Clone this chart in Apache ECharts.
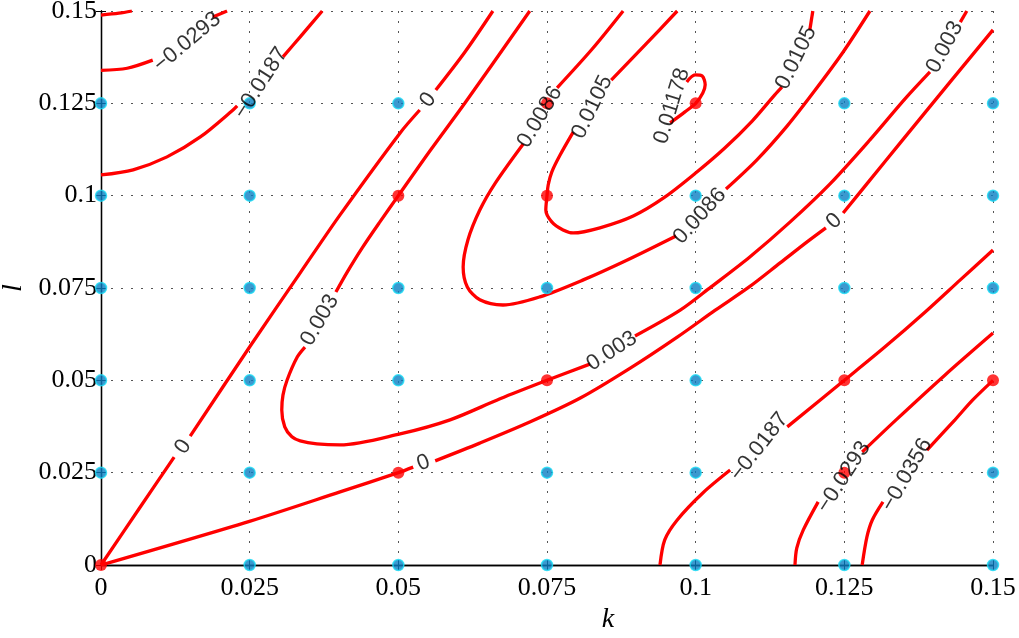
<!DOCTYPE html>
<html>
<head>
<meta charset="utf-8">
<script src="https://cdn.jsdelivr.net/npm/echarts@6/dist/echarts.min.js"></script>
<style>
  html, body { margin: 0; padding: 0; background: #fff; }
  #chart { width: 1019px; height: 638px; }
</style>
</head>
<body>
<div id="chart"></div>
<script>
// Tick labels for both axes
const kTicks = ['0', '0.025', '0.05', '0.075', '0.1', '0.125', '0.15'];
const lTicks = ['0', '0.025', '0.05', '0.075', '0.1', '0.125', '0.15'];

// Contour polylines, one list of [k, l] pieces per level (pieces are split where the labels sit)
const contourM0356 = [
  [[0, 0.1489], [0.0030, 0.1494], [0.0052, 0.15]],
  [[0.15, 0.05], [0.1466, 0.0447], [0.1436, 0.0393], [0.1389, 0.0311]],
  [[0.1315, 0.0171], [0.1297, 0.0122], [0.1288, 0.0076], [0.1280, 0]]
];
const contourM0293 = [
  [[0, 0.1339], [0.0044, 0.1345], [0.0087, 0.1367]],
  [[0.0188, 0.1484], [0.0212, 0.15]],
  [[0.15, 0.0628], [0.1419, 0.0514], [0.1337, 0.0393], [0.1280, 0.0306]],
  [[0.1206, 0.0171], [0.1181, 0.0095], [0.1170, 0.0046], [0.1167, 0]]
];
const contourM0187 = [
  [[0, 0.1056], [0.0054, 0.1070], [0.0111, 0.1105], [0.0167, 0.1159], [0.0222, 0.1232], [0.0229, 0.1243]],
  [[0.0306, 0.1376], [0.0335, 0.1430], [0.0372, 0.15]],
  [[0.15, 0.0853], [0.1445, 0.0772], [0.1386, 0.0685], [0.1318, 0.0590], [0.125, 0.05], [0.1154, 0.0374]],
  [[0.1058, 0.0257], [0.1012, 0.0195], [0.0969, 0.0122], [0.0948, 0.0068], [0.0940, 0]]
];
const contour0 = [
  [[0, 0], [0.0066, 0.0157], [0.0123, 0.0292]],
  [[0.0150, 0.0349], [0.0251, 0.0593], [0.0335, 0.0791], [0.0402, 0.0948], [0.0503, 0.1170], [0.0536, 0.1232]],
  [[0.0563, 0.1286], [0.0612, 0.1389], [0.0659, 0.15]],
  [[0, 0], [0.0251, 0.0119], [0.0402, 0.0198], [0.05, 0.025], [0.0525, 0.0265]],
  [[0.0562, 0.0282], [0.0637, 0.0330], [0.0721, 0.0387], [0.0806, 0.0452], [0.0890, 0.0533], [0.0969, 0.0617], [0.1033, 0.0690], [0.1090, 0.0753], [0.1142, 0.0818], [0.1189, 0.0877], [0.1219, 0.0913]],
  [[0.1248, 0.0953], [0.1293, 0.1042], [0.1344, 0.1143], [0.1428, 0.1308], [0.15, 0.1449]]
];
const contour003 = [
  [[0.0721, 0.15], [0.0612, 0.1251], [0.0553, 0.1121], [0.05, 0.1], [0.0469, 0.0929], [0.0439, 0.0858], [0.0414, 0.0793], [0.0395, 0.0739]],
  [[0.0343, 0.0590], [0.0330, 0.0563], [0.0313, 0.0501], [0.0306, 0.0460], [0.0304, 0.0420], [0.0309, 0.0374], [0.0321, 0.0347], [0.0335, 0.0336], [0.0363, 0.0328], [0.0402, 0.0325], [0.0503, 0.0355], [0.0587, 0.0393], [0.0671, 0.0450], [0.075, 0.05], [0.0822, 0.0544]],
  [[0.0898, 0.0620], [0.0974, 0.0690], [0.1026, 0.0753], [0.1091, 0.0834], [0.1159, 0.0929], [0.1226, 0.1032], [0.1293, 0.1151], [0.1352, 0.1262], [0.1394, 0.1335]],
  [[0.1445, 0.1470], [0.1456, 0.15]]
];
const contour0086 = [
  [[0.0878, 0.15], [0.0826, 0.1397], [0.0767, 0.1292]],
  [[0.0710, 0.1140], [0.0663, 0.1034], [0.0637, 0.0961], [0.0617, 0.0880], [0.0609, 0.0807], [0.0616, 0.0753], [0.0637, 0.0718], [0.0676, 0.0704], [0.0738, 0.0726], [0.0811, 0.0772], [0.0885, 0.0826], [0.0967, 0.0891]],
  [[0.1051, 0.1018], [0.1103, 0.1097], [0.1154, 0.1189], [0.1201, 0.1286], [0.1248, 0.1389], [0.1293, 0.15]]
];
const contour0105 = [
  [[0.0969, 0.15], [0.0915, 0.1408], [0.0858, 0.1313]],
  [[0.0794, 0.1172], [0.0772, 0.1110], [0.0758, 0.1064], [0.0752, 0.1029], [0.075, 0.1], [0.0748, 0.0961], [0.0758, 0.0929], [0.0777, 0.0907], [0.0794, 0.0899], [0.0839, 0.0913], [0.0895, 0.0945], [0.0948, 0.0996], [0.1002, 0.1064], [0.1049, 0.1129], [0.1095, 0.1202], [0.1133, 0.1273], [0.1145, 0.1294]],
  [[0.1192, 0.1449], [0.1197, 0.15]]
];
const contour01178 = [
  [[0.0957, 0.1197], [0.0982, 0.1227], [0.1, 0.125], [0.1012, 0.1278], [0.1016, 0.1300], [0.1011, 0.1324], [0.0999, 0.1327], [0.0985, 0.1308]]
];

// Contour labels: text, position (k, l) and text angle in degrees
const labelText = ['\u22120.0293', '\u22120.0187', '0', '0', '0.003', '0.0086', '0.0105', '0.01178', '0.0105', '0.003', '0.0086', '0.003', '0', '0', '\u22120.0187', '\u22120.0293', '\u22120.0356'];
const labelK = [0.0145, 0.0269, 0.0550, 0.0138, 0.0368, 0.0738, 0.0826, 0.0960, 0.1169, 0.1419, 0.1007, 0.0859, 0.0542, 0.1233, 0.1107, 0.1249, 0.1355];
const labelL = [0.1416, 0.1305, 0.1259, 0.0320, 0.0663, 0.1213, 0.1240, 0.1243, 0.1373, 0.1402, 0.0945, 0.0579, 0.0276, 0.0931, 0.0320, 0.0238, 0.0244];
const labelAngle = [40, 57, 53, 56, 60, 59, 64, 73, 64, 62, 48, 33, 20, 44, 52, 57, 60];

// Sample points
const redPoints = [
  [0, 0], [0.05, 0.025], [0.05, 0.1], [0.075, 0.05], [0.075, 0.1], [0.075, 0.125],
  [0.1, 0.125], [0.125, 0.025], [0.125, 0.05], [0.15, 0.05]
];
const bluePoints = [
  [0.025, 0], [0.05, 0], [0.075, 0], [0.1, 0], [0.125, 0], [0.15, 0],
  [0, 0.025], [0.025, 0.025], [0.075, 0.025], [0.1, 0.025], [0.15, 0.025],
  [0, 0.05], [0.025, 0.05], [0.05, 0.05], [0.1, 0.05],
  [0, 0.075], [0.025, 0.075], [0.05, 0.075], [0.075, 0.075], [0.1, 0.075], [0.125, 0.075], [0.15, 0.075],
  [0, 0.1], [0.025, 0.1], [0.1, 0.1], [0.125, 0.1], [0.15, 0.1],
  [0, 0.125], [0.025, 0.125], [0.05, 0.125], [0.125, 0.125], [0.15, 0.125]
];

const contourLevels = [contourM0356, contourM0293, contourM0187, contour0, contour003, contour0086, contour0105, contour01178];

const series = [];
contourLevels.forEach(function (pieces) {
  pieces.forEach(function (piece) {
    series.push({
      type: 'line',
      data: piece,
      symbol: 'none',
      smooth: 0.3,
      lineStyle: { color: '#ff0000', width: 3.3 },
      z: 2,
      silent: true
    });
  });
});

series.push({
  type: 'scatter',
  data: bluePoints,
  symbolSize: 11,
  itemStyle: { color: '#0a7fc3', borderColor: '#19dcf5', borderWidth: 1.5 },
  clip: false,
  z: 3,
  silent: true
});
series.push({
  type: 'scatter',
  data: redPoints,
  symbolSize: 12,
  itemStyle: { color: '#ff0000' },
  clip: false,
  z: 3,
  silent: true
});
series.push({
  type: 'scatter',
  data: labelText.map(function (t, i) {
    return { value: [labelK[i], labelL[i]], name: t, label: { rotate: labelAngle[i] } };
  }),
  symbolSize: 0,
  itemStyle: { color: 'rgba(0,0,0,0)' },
  label: {
    show: true,
    position: 'inside',
    formatter: '{b}',
    color: '#000',
    fontSize: 22,
    fontFamily: 'Liberation Sans, Arial, sans-serif'
  },
  clip: false,
  z: 4,
  silent: true
});

const tickFont = { color: '#000', fontSize: 26, fontFamily: 'Liberation Serif, Times New Roman, serif' };
const dotted = { color: '#555', width: 1, type: [2, 8] };

const option = {
  animation: false,
  backgroundColor: '#fff',
  grid: { left: 101, right: 26, top: 11, bottom: 73, containLabel: false, outerBoundsMode: 'none' },
  xAxis: [{
    type: 'value', min: 0, max: 0.15, interval: 0.025,
    name: 'k', nameLocation: 'middle', nameGap: 38,
    nameTextStyle: { fontSize: 28, fontStyle: 'italic', fontFamily: 'Liberation Serif, serif', color: '#000', padding: [0, 0, 0, 122] },
    axisLine: { show: true, lineStyle: { color: '#000', width: 1.3 } },
    axisTick: { show: true, inside: true, length: 5, lineStyle: { color: '#000' } },
    axisLabel: Object.assign({ margin: 10, formatter: function (v) { return kTicks[Math.round(v / 0.025)]; } }, tickFont),
    splitLine: { show: true, lineStyle: dotted }
  }, {
    type: 'value', min: 0, max: 0.15, interval: 0.025, position: 'top',
    axisLine: { show: true, lineStyle: { color: '#000', width: 1.3 } },
    axisTick: { show: true, inside: true, length: 5, lineStyle: { color: '#000' } },
    axisLabel: { show: false },
    splitLine: { show: false }
  }],
  yAxis: [{
    type: 'value', min: 0, max: 0.15, interval: 0.025,
    name: 'l', nameLocation: 'middle', nameGap: 62, nameRotate: 90,
    nameTextStyle: { fontSize: 28, fontStyle: 'italic', fontFamily: 'Liberation Serif, serif', color: '#000' },
    axisLine: { show: true, lineStyle: { color: '#000', width: 1.3 } },
    axisTick: { show: true, inside: true, length: 5, lineStyle: { color: '#000' } },
    axisLabel: Object.assign({ margin: 4, formatter: function (v) { return lTicks[Math.round(v / 0.025)]; } }, tickFont),
    splitLine: { show: true, lineStyle: dotted }
  }, {
    type: 'value', min: 0, max: 0.15, interval: 0.025, position: 'right',
    axisLine: { show: true, lineStyle: { color: '#000', width: 1.3 } },
    axisTick: { show: true, inside: true, length: 5, lineStyle: { color: '#000' } },
    axisLabel: { show: false },
    splitLine: { show: false }
  }],
  series: series
};

const chart = echarts.init(document.getElementById('chart'), null, { renderer: 'canvas' });
chart.setOption(option);
</script>
</body>
</html>
